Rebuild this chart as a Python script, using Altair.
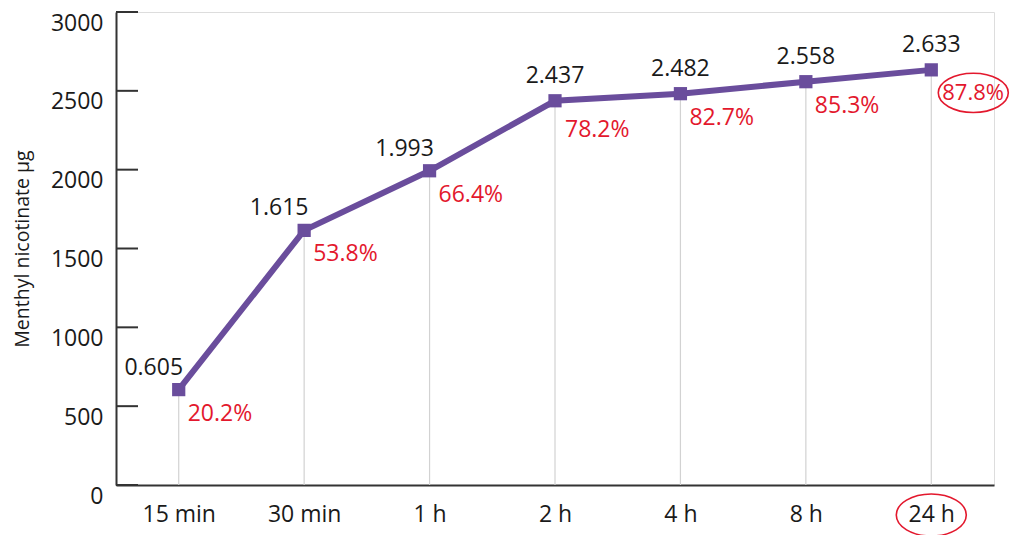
import altair as alt
import pandas as pd

times = ["15 min", "30 min", "1 h", "2 h", "4 h", "8 h", "24 h"]
amount_ug = [605, 1615, 1993, 2437, 2482, 2558, 2633]
value_labels = ["0.605", "1.615", "1.993", "2.437", "2.482", "2.558", "2.633"]
pct_labels = ["20.2%", "53.8%", "66.4%", "78.2%", "82.7%", "85.3%", "87.8%"]
y_ticks = [0, 500, 1000, 1500, 2000, 2500, 3000]

df = pd.DataFrame({
    "time": times,
    "amount": amount_ug,
    "vlabel": value_labels,
    "plabel": pct_labels,
    "idx": list(range(len(times))),
})
ticks_df = pd.DataFrame({"v": y_ticks})

FONT = "Open Sans"
PURPLE = "#6a4d9c"
RED = "#e3182d"
DARK = "#333333"
TXT = "#1a1a1a"
FS = 23

xs = alt.X("time:N", sort=times, scale=alt.Scale(type="point", padding=0.5),
           axis=alt.Axis(title=None, ticks=False, grid=False, domainColor=DARK,
                         domainWidth=2, labelFont=FONT, labelFontSize=FS,
                         labelColor=TXT, labelPadding=18, labelAngle=0))
ys = alt.Y("amount:Q", scale=alt.Scale(domain=[0, 3000], nice=False, zero=True),
           axis=alt.Axis(title="Menthyl nicotinate μg", values=y_ticks, ticks=False,
                         grid=False, domainColor=DARK, domainWidth=2, format="d",
                         labelFont=FONT, labelFontSize=FS, labelColor=TXT,
                         labelBaseline="top", labelPadding=13, titleFont=FONT,
                         titleFontSize=19.5, titleFontWeight="normal",
                         titleColor=TXT, titlePadding=18))

base = alt.Chart(df)

vrules = base.mark_rule(color="#d2d2d2", strokeWidth=1.2).encode(
    x=xs, y=ys, y2=alt.datum(0))

inticks = alt.Chart(ticks_df).mark_rule(color=DARK, strokeWidth=2).encode(
    y=alt.Y("v:Q", scale=alt.Scale(domain=[0, 3000], nice=False)),
    x=alt.value(0), x2=alt.value(22))

line = base.mark_line(color=PURPLE, strokeWidth=6).encode(x=xs, y=ys)
pts = base.mark_square(color=PURPLE, size=175, opacity=1).encode(x=xs, y=ys)

vtext_left = base.transform_filter("datum.idx < 3").mark_text(
    font=FONT, fontSize=FS, color=TXT, dx=-25, dy=-22).encode(
    x=xs, y=ys, text="vlabel:N")
vtext_c = base.transform_filter("datum.idx >= 3").mark_text(
    font=FONT, fontSize=FS, color=TXT, dx=0, dy=-25).encode(
    x=xs, y=ys, text="vlabel:N")

ptext_a = base.transform_filter("datum.idx != 3 && datum.idx != 6").mark_text(
    font=FONT, fontSize=FS, color=RED, align="left", dx=9, dy=24).encode(
    x=xs, y=ys, text="plabel:N")
ptext_b = base.transform_filter("datum.idx == 3").mark_text(
    font=FONT, fontSize=FS, color=RED, align="left", dx=10, dy=29).encode(
    x=xs, y=ys, text="plabel:N")
ptext_c = base.transform_filter("datum.idx == 6").mark_text(
    font=FONT, fontSize=22, color=RED, align="left", dx=11, dy=23).encode(
    x=xs, y=ys, text="plabel:N")

ellipse_path = "M -1 0 A 1 0.56 0 1 0 1 0 A 1 0.56 0 1 0 -1 0 Z"
ellipse_path2 = "M -1 0 A 1 0.6 0 1 0 1 0 A 1 0.6 0 1 0 -1 0 Z"

last = base.transform_filter("datum.idx == 6")
ell1 = last.mark_point(shape=ellipse_path, size=4900, filled=False, color=RED,
                       strokeWidth=1.6, xOffset=42, yOffset=23, opacity=1).encode(
    x=xs, y=ys)
ell2 = last.mark_point(shape=ellipse_path2, size=4900, filled=False, color=RED,
                       strokeWidth=1.6, yOffset=30, opacity=1).encode(
    x=xs, y=alt.datum(0))

chart = alt.layer(vrules, inticks, line, pts, vtext_left, vtext_c,
                  ptext_a, ptext_b, ptext_c, ell1, ell2).properties(
    width=878, height=473,
    autosize=alt.AutoSizeParams(type="none"),
    padding={"left": 108, "top": 4, "right": 16, "bottom": 50},
).configure_view(stroke=None).configure(background="white")

chart.save("out.html", embed_options={"renderer": "svg", "actions": False})
